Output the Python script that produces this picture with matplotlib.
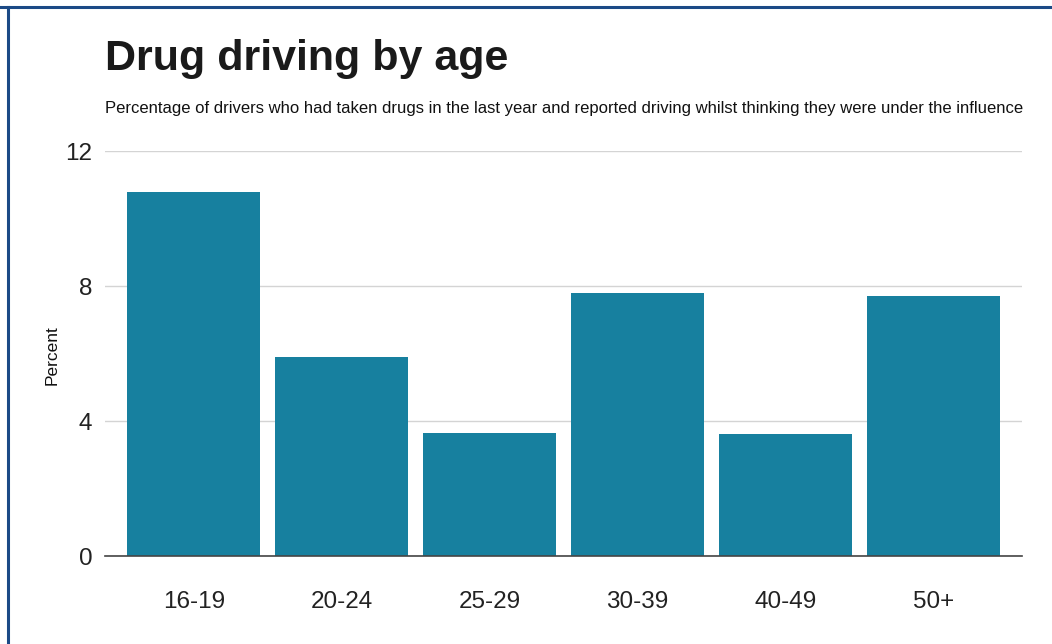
import matplotlib
matplotlib.use("Agg")
import matplotlib.pyplot as plt
from matplotlib.lines import Line2D

plt.rcParams['font.family'] = ['Liberation Sans', 'DejaVu Sans']

# data
ages = ["16-19", "20-24", "25-29", "30-39", "40-49", "50+"]
percent = [10.8, 5.9, 3.65, 7.8, 3.62, 7.7]
yticks = [0, 4, 8, 12]

bar_colour = "#17809f"
border_colour = "#1b4a86"

fig = plt.figure(figsize=(10.52, 6.44), dpi=100)
ax = fig.add_axes([0.0998, 0.1366, 0.8717, 0.6289])

x = list(range(len(ages)))
ax.bar(x, percent, width=0.9, color=bar_colour, zorder=2)

ax.set_xlim(-0.6, len(ages) - 0.4)
ax.set_ylim(0, 12)
ax.set_yticks(yticks)
ax.set_yticklabels([str(t) for t in yticks], fontsize=17.5, color="#222222")
ax.set_xticks(x)
ax.set_xticklabels(ages, fontsize=17.5, color="#222222")
ax.tick_params(axis="both", length=0)
ax.tick_params(axis="y", pad=9)
ax.tick_params(axis="x", pad=25)

ax.grid(axis="y", color="#d4d4d4", linewidth=1, zorder=0)
for s in ["top", "right", "left"]:
    ax.spines[s].set_visible(False)
ax.spines["bottom"].set_color("#444444")
ax.spines["bottom"].set_linewidth(1.2)
ax.spines["bottom"].set_zorder(3)

fig.text(0.0497, 0.449, "Percent", rotation=90, fontsize=12.5,
         ha="center", va="center", color="#111111")

fig.text(0.1, 0.892, "Drug driving by age", fontsize=31, fontweight="bold",
         color="#1a1a1a", ha="left", va="baseline")
fig.text(0.1, 0.825,
         "Percentage of drivers who had taken drugs in the last year and reported "
         "driving whilst thinking they were under the influence",
         fontsize=12, color="#111111", ha="left", va="baseline")

# frame lines on top and left
fig.add_artist(Line2D([0, 1], [0.9891, 0.9891], transform=fig.transFigure,
                      color=border_colour, linewidth=2.2))
fig.add_artist(Line2D([0.0076, 0.0076], [0, 0.9891], transform=fig.transFigure,
                      color=border_colour, linewidth=2.2))

fig.savefig("out.png", dpi=100, facecolor="white")
